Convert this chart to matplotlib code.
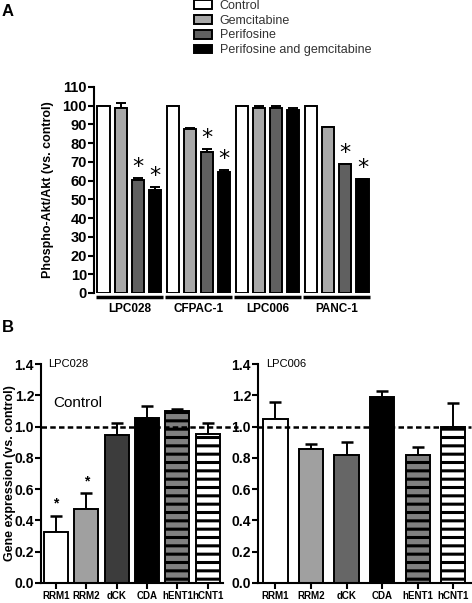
import numpy as np
import matplotlib
matplotlib.use("Agg")
import matplotlib.pyplot as plt
from matplotlib.patches import Patch
from matplotlib.transforms import blended_transform_factory

plt.rcParams['font.family'] = ['Liberation Sans', 'DejaVu Sans']
plt.rcParams['hatch.linewidth'] = 2.2

# ---- panel A data ----
cell_lines = ["LPC028", "CFPAC-1", "LPC006", "PANC-1"]
treatments = ["Control", "Gemcitabine", "Perifosine", "Perifosine and gemcitabine"]
akt_values = [
    [100, 99, 60.5, 55],
    [100, 87.5, 75.5, 64.5],
    [100, 99, 99, 97.5],
    [100, 88.5, 69, 61],
]
akt_errors = [
    [0, 2.5, 1, 1.5],
    [0, 0.5, 1.5, 1],
    [0, 1, 1, 1.5],
    [0, 0, 0, 0],
]
akt_stars = [
    [0, 0, 1, 1],
    [0, 0, 1, 1],
    [0, 0, 0, 0],
    [0, 0, 1, 1],
]
akt_yticks = list(range(0, 111, 10))

# ---- panel B data ----
genes = ["RRM1", "RRM2", "dCK", "CDA", "hENT1", "hCNT1"]
lpc028_expr = [0.323, 0.473, 0.946, 1.056, 1.10, 0.952]
lpc028_err = [0.108, 0.104, 0.08, 0.074, 0.01, 0.07]
lpc028_stars = [1, 1, 0, 0, 0, 0]
lpc006_expr = [1.046, 0.855, 0.82, 1.19, 0.82, 1.0]
lpc006_err = [0.114, 0.032, 0.083, 0.04, 0.05, 0.152]
lpc006_stars = [0, 0, 0, 0, 0, 0]
expr_yticks = [0.0, 0.2, 0.4, 0.6, 0.8, 1.0, 1.2, 1.4]

treat_colors = ["white", "#a8a8a8", "#606060", "black"]

W, H = 472, 603
fig = plt.figure(figsize=(W / 100, H / 100), dpi=100)


def px_axes(left, top, right, bottom):
    # axes placed from pixel box of the reference
    return fig.add_axes([left / W, 1 - bottom / H, (right - left) / W, (bottom - top) / H])


# ================= panel A =================
axA = px_axes(94, 87, 372, 293)
vals = np.array(akt_values).ravel()
errs = np.array(akt_errors).ravel()
stars = np.array(akt_stars).ravel()
xpos = np.arange(len(vals))
cols = treat_colors * len(cell_lines)

axA.bar(xpos, vals, width=0.7, color=cols, edgecolor="black", linewidth=1.4, zorder=2)
axA.errorbar(xpos, vals, yerr=[np.zeros_like(errs), errs], fmt="none",
             ecolor="black", elinewidth=1.4, capsize=3.5, capthick=1.4, zorder=1)
for xi, v, e, s in zip(xpos, vals, errs, stars):
    if s:
        axA.text(xi, v + e + 0.5, "*", ha="center", va="bottom", fontsize=16,
                 family="DejaVu Sans")

axA.set_xlim(-0.55, len(vals) - 0.45)
axA.set_ylim(0, 110)
axA.set_yticks(akt_yticks)
axA.set_xticks([])
for sp in ["top", "right", "bottom"]:
    axA.spines[sp].set_visible(False)
axA.spines["left"].set_linewidth(1.5)
axA.tick_params(axis="y", width=1.5, length=4, labelsize=10.5, pad=1)
for lab in axA.get_yticklabels():
    lab.set_fontweight("bold")
axA.set_ylabel("Phospho-Akt/Akt (vs. control)", fontsize=9, fontweight="bold", labelpad=6)

# group underlines and names
trans = blended_transform_factory(axA.transData, axA.transAxes)
for g, name in enumerate(cell_lines):
    x0 = g * 4 - 0.42
    x1 = g * 4 + 3.42
    axA.plot([x0, x1], [-0.02, -0.02], color="black", lw=2.5, transform=trans,
             clip_on=False, solid_capstyle="butt")
    axA.text(g * 4 + 1.5, -0.08, name, ha="center", va="center", fontsize=8.5,
             fontweight="bold", transform=trans)

handles = [Patch(facecolor=c, edgecolor="black", linewidth=1.4) for c in treat_colors]
fig.legend(handles, treatments, loc="upper left", bbox_to_anchor=(194 / W, 1.0),
           frameon=False, fontsize=9, handlelength=1.45, handleheight=0.7,
           handletextpad=0.6, labelspacing=0.22, borderpad=0, borderaxespad=0,
           labelcolor="#333333")

fig.text(2 / W, 1 - 12 / H, "A", fontsize=12, fontweight="bold", va="center")
fig.text(2 / W, 1 - 328 / H, "B", fontsize=12, fontweight="bold", va="center")

# ================= panel B =================
gene_colors_left = ["white", "#a0a0a0", "#3c3c3c", "black", "#808080", "white"]
gene_colors_right = ["white", "#a0a0a0", "#666666", "black", "#808080", "white"]
gene_hatch = [None, None, None, None, "--", "--"]


def gene_panel(ax, expr, err, star, colors, width, title, show_ylabel, dash_end):
    gx = np.arange(len(genes))
    bars = ax.bar(gx, expr, width=width, color=colors, edgecolor="black",
                  linewidth=1.4, zorder=2)
    for b, h in zip(bars, gene_hatch):
        if h:
            b.set_hatch(h)
    ax.errorbar(gx, expr, yerr=[np.zeros(len(err)), err], fmt="none", ecolor="black",
                elinewidth=1.4, capsize=4, capthick=1.8, zorder=1)
    for xi, v, e, s in zip(gx, expr, err, star):
        if s:
            ax.text(xi, v + e + 0.03, "*", ha="center", va="bottom", fontsize=10,
                    fontweight="bold")
    ax.plot([-0.5, dash_end], [1.0, 1.0], color="black", lw=1.8,
            linestyle=(0, (2.2, 1.3)), zorder=4, clip_on=False)
    ax.set_xlim(-0.49, 5.5)
    ax.set_ylim(0, 1.4)
    ax.set_yticks(expr_yticks)
    ax.set_yticklabels([f"{t:.1f}" for t in expr_yticks])
    ax.set_xticks(gx)
    ax.set_xticklabels(genes)
    for sp in ["top", "right"]:
        ax.spines[sp].set_visible(False)
    for sp in ["left", "bottom"]:
        ax.spines[sp].set_linewidth(1.5)
    ax.tick_params(axis="y", width=1.5, length=4, labelsize=10, pad=1)
    ax.tick_params(axis="x", width=1.5, length=4, labelsize=7, pad=1.5)
    for lab in ax.get_yticklabels() + ax.get_xticklabels():
        lab.set_fontweight("bold")
    ax.text(0.04, 1.0, title, transform=ax.transAxes, fontsize=8, va="center")
    if show_ylabel:
        ax.set_ylabel("Gene expression (vs. control)", fontsize=9, fontweight="bold")
        ax.yaxis.set_label_coords(-0.14, 0.5)


axL = px_axes(41, 364, 223, 583)
gene_panel(axL, lpc028_expr, lpc028_err, lpc028_stars, gene_colors_left, 0.79,
           "LPC028", True, 6.0)
axL.text(0.07, 0.82, "Control", transform=axL.transAxes, fontsize=11, va="center")

axR = px_axes(258, 364, 471, 583)
gene_panel(axR, lpc006_expr, lpc006_err, lpc006_stars, gene_colors_right, 0.68,
           "LPC006", False, 5.5)

fig.savefig("out.png", dpi=100)
